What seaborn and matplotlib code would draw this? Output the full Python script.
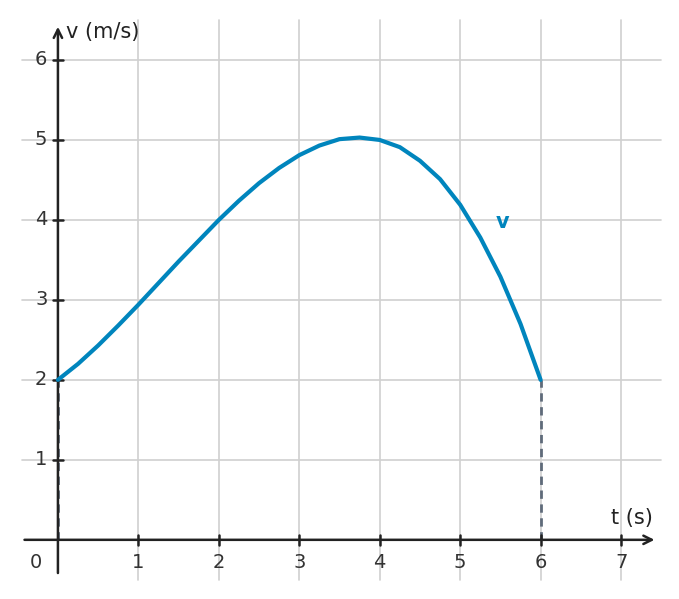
import matplotlib
matplotlib.use("Agg")
from matplotlib import pyplot as plt
import seaborn as sns
import pandas as pd

# values
t_vals = [0, 0.25, 0.5, 0.75, 1, 1.25, 1.5, 1.75, 2, 2.25, 2.5, 2.75, 3, 3.25,
          3.5, 3.75, 4, 4.25, 4.5, 4.75, 5, 5.25, 5.5, 5.75, 6]
v_vals = [2.00, 2.20, 2.43, 2.68, 2.94, 3.21, 3.48, 3.74, 4.00, 4.24, 4.46, 4.65,
          4.81, 4.93, 5.01, 5.03, 5.00, 4.91, 4.74, 4.51, 4.19, 3.78, 3.29, 2.70, 2.00]
x_ticks = [1, 2, 3, 4, 5, 6, 7]
y_ticks = [1, 2, 3, 4, 5, 6]

sns.set_style("white")
plt.rcParams['font.family'] = ['DejaVu Sans']
fig = plt.figure(figsize=(6.79, 5.99), dpi=100)
ax = fig.add_axes([0, 0, 1, 1])
ax.set_xlim(-0.72, 7.72)
ax.set_ylim(-0.74, 6.75)
ax.axis('off')

grid_c = '#d0d0d0'
for x in x_ticks:
    ax.plot([x, x], [-0.5, 6.5], color=grid_c, lw=1.2, zorder=1)
for y in y_ticks:
    ax.plot([-0.45, 7.5], [y, y], color=grid_c, lw=1.2, zorder=1)

# dashed guides
ax.plot([6, 6], [0, 2], color='#5f6b7a', lw=2, ls=(0, (3, 2)), zorder=2)
ax.plot([0, 0], [0, 2], color='#5f6b7a', lw=2, ls=(0, (3, 2)), zorder=2)

# axes with arrows
ak = dict(arrowstyle='->', color='#222222', lw=1.8, mutation_scale=15)
ax.annotate('', xy=(7.45, 0), xytext=(-0.45, 0), arrowprops=ak, zorder=3)
ax.annotate('', xy=(0, 6.45), xytext=(0, -0.45), arrowprops=ak, zorder=3)
for x in x_ticks:
    ax.plot([x, x], [-0.06, 0.06], color='#222222', lw=1.8, zorder=3)
    ax.text(x, -0.16, str(x), ha='center', va='top', fontsize=14, color='#333333')
for y in y_ticks:
    ax.plot([-0.06, 0.06], [y, y], color='#222222', lw=1.8, zorder=3)
    ax.text(-0.13, y, str(y), ha='right', va='center', fontsize=14, color='#333333')
ax.text(-0.2, -0.16, '0', ha='right', va='top', fontsize=14, color='#333333')
ax.text(0.1, 6.35, 'v (m/s)', ha='left', va='center', fontsize=15, color='#222222')
ax.text(7.4, 0.15, 't (s)', ha='right', va='bottom', fontsize=15, color='#222222')

df = pd.DataFrame({'t': t_vals, 'v': v_vals})
sns.lineplot(data=df, x='t', y='v', color='#0085bd', lw=3, ax=ax, zorder=4)
ax.text(5.52, 3.98, 'v', color='#0085bd', fontsize=15, fontweight='bold', ha='center', va='center')
ax.set_xlim(-0.72, 7.72)
ax.set_ylim(-0.74, 6.75)

fig.savefig('out.png', dpi=100)
